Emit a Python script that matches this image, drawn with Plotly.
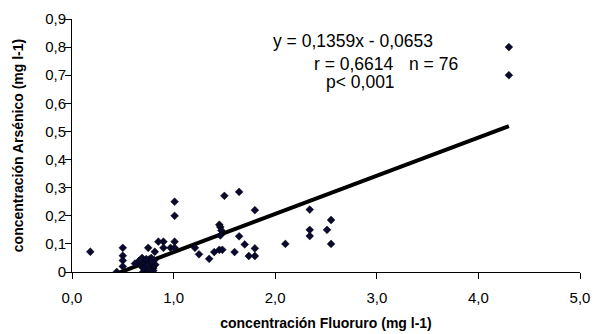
import plotly.graph_objects as go

# Data
fluoruro = [0.18, 0.44, 0.50, 0.50, 0.50, 0.50, 0.69, 0.70, 0.74, 0.79,
            0.74, 0.80, 0.82, 0.75, 0.815, 0.85, 0.90, 0.90, 0.97, 1.01,
            1.01, 1.01, 1.01, 1.21, 1.25, 1.35, 1.40, 1.45, 1.48, 1.45,
            1.46, 1.47, 1.46, 1.50, 1.60, 1.645, 1.645, 1.70, 1.74, 1.80,
            1.80, 1.80, 2.10, 2.34, 2.34, 2.34, 2.51, 2.55, 2.55, 4.30,
            4.30,
            0.72, 0.76, 0.78, 0.72, 0.76, 0.70, 0.78, 0.66, 0.62, 0.80,
            0.73, 0.77, 0.75, 0.71, 0.79, 0.74, 0.68, 0.76, 0.81, 0.77,
            0.73, 0.75, 0.78, 0.70, 0.74]
arsenico = [0.072, 0.0, 0.086, 0.058, 0.041, 0.020, 0.050, 0.0, 0.0, 0.0,
            0.032, 0.014, 0.026, 0.086, 0.072, 0.108, 0.108, 0.086, 0.086, 0.108,
            0.200, 0.250, 0.086, 0.086, 0.063, 0.047, 0.071, 0.079, 0.079, 0.168,
            0.160, 0.148, 0.130, 0.271, 0.071, 0.285, 0.127, 0.098, 0.057, 0.057,
            0.084, 0.220, 0.100, 0.222, 0.150, 0.128, 0.150, 0.185, 0.100, 0.800,
            0.700,
            0.040, 0.045, 0.030, 0.020, 0.015, 0.035, 0.050, 0.040, 0.030, 0.005,
            0.010, 0.025, 0.038, 0.028, 0.018, 0.008, 0.022, 0.033, 0.042, 0.006,
            0.046, 0.012, 0.036, 0.015, 0.024]

slope = 0.1359
intercept = -0.0653

x_ticks = [0, 1, 2, 3, 4, 5]
x_ticktext = ["0,0", "1,0", "2,0", "3,0", "4,0", "5,0"]
y_ticks = [0, 0.1, 0.2, 0.3, 0.4, 0.5, 0.6, 0.7, 0.8, 0.9]
y_ticktext = ["0", "0,1", "0,2", "0,3", "0,4", "0,5", "0,6", "0,7", "0,8", "0,9"]

font_family = "Liberation Sans, Arial, sans-serif"

x_lo, x_hi = min(fluoruro), max(fluoruro)
trend_x = [x_lo, x_hi]
trend_y = [slope * v + intercept for v in trend_x]

fig = go.Figure()
fig.add_trace(go.Scatter(
    x=trend_x, y=trend_y, mode="lines",
    line=dict(color="black", width=4), hoverinfo="skip", showlegend=False,
))
fig.add_trace(go.Scatter(
    x=fluoruro, y=arsenico, mode="markers",
    marker=dict(symbol="diamond", size=6, color="#0a0a30",
                line=dict(color="black", width=0.5)),
    showlegend=False,
))

ann_font = dict(family=font_family, size=17.5, color="black")
fig.add_annotation(x=1.96, y=0.823, text="y = 0,1359x - 0,0653", showarrow=False,
                   xanchor="left", yanchor="middle", font=ann_font)
fig.add_annotation(x=2.36, y=0.740, text="r = 0,6614", showarrow=False,
                   xanchor="left", yanchor="middle", font=ann_font)
fig.add_annotation(x=3.30, y=0.741, text="n = 76", showarrow=False,
                   xanchor="left", yanchor="middle", font=ann_font)
fig.add_annotation(x=2.48, y=0.677, text="p< 0,001", showarrow=False,
                   xanchor="left", yanchor="middle", font=ann_font)

fig.update_layout(
    width=594, height=334,
    margin=dict(l=72, r=14, t=19, b=62),
    paper_bgcolor="white", plot_bgcolor="white",
    font=dict(family=font_family, size=15, color="black"),
    xaxis=dict(
        range=[0, 5], tickvals=x_ticks, ticktext=x_ticktext,
        showgrid=False, zeroline=False, showline=True, linecolor="black", linewidth=1,
        ticks="outside", ticklen=6, tickcolor="black", ticklabelstandoff=6,
        title=dict(text="<b>concentración Fluoruro (mg l-1)</b>",
                   font=dict(size=14, family=font_family), standoff=13),
        automargin=False,
    ),
    yaxis=dict(
        range=[0, 0.9], tickvals=y_ticks, ticktext=y_ticktext,
        showgrid=False, zeroline=False, showline=True, linecolor="black", linewidth=1,
        ticks="outside", ticklen=6, tickcolor="black", ticklabelstandoff=-4,
        title=dict(text="<b>concentración Arsénico (mg l-1)</b>",
                   font=dict(size=14, family=font_family), standoff=18),
        automargin=False,
    ),
)

fig.write_html("out.html", config={"displayModeBar": False},
               post_script="document.body.style.margin='0px';")
